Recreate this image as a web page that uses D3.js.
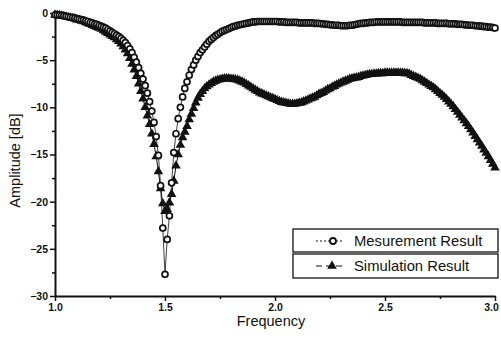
<!DOCTYPE html>
<html>
<head>
<meta charset="utf-8">
<script src="https://cdn.jsdelivr.net/npm/d3@7"></script>
<style>
  body { margin: 0; background: #fff; }
  text { font-family: "Liberation Sans", Arial, sans-serif; fill: #111; }
</style>
</head>
<body>
<div id="chart"></div>
<script>
const margin = {'top':13,'right':6,'bottom':47,'left':55};
const width = 501 - margin.left - margin.right;
const height = 343 - margin.top - margin.bottom;

// frequency grid, 1.00 .. 3.00 GHz in 0.01 steps
const freqStart = 1.0;
const freqStep = 0.01;
const xTicks = [1.0, 1.5, 2.0, 2.5, 3.0];
const yTicks = [0, -5, -10, -15, -20, -25, -30];
const seriesNames = ['Mesurement Result', 'Simulation Result'];

// measured S21 [dB], one row per 0.1 GHz
const measured = [
  -0.2, -0.2, -0.22, -0.25, -0.3, -0.35, -0.4, -0.45, -0.5, -0.55,
  -0.6, -0.65, -0.7, -0.75, -0.85, -0.9, -1.0, -1.05, -1.15, -1.2,
  -1.3, -1.4, -1.5, -1.6, -1.75, -1.9, -2.05, -2.2, -2.35, -2.5,
  -2.7, -2.9, -3.15, -3.45, -3.8, -4.2, -4.7, -5.2, -5.8, -6.4,
  -7.0, -7.7, -8.5, -9.4, -10.4, -11.6, -13.1, -15.1, -18.3, -22.8,
  -27.7, -24.0, -21.5, -18.0, -14.8, -12.8, -11.2, -10.0, -8.9, -8.0,
  -7.3, -6.6, -6.0, -5.5, -5.0, -4.6, -4.2, -3.9, -3.6, -3.3,
  -3.0, -2.8, -2.6, -2.4, -2.25, -2.1, -1.95, -1.85, -1.75, -1.65,
  -1.55, -1.45, -1.4, -1.3, -1.25, -1.2, -1.15, -1.1, -1.05, -1.0,
  -0.95, -0.95, -0.9, -0.9, -0.9, -0.9, -0.9, -0.9, -0.9, -0.9,
  -0.9, -0.9, -0.95, -0.95, -0.95, -1.0, -1.0, -1.0, -1.0, -1.0,
  -1.0, -1.05, -1.05, -1.05, -1.05, -1.05, -1.05, -1.05, -1.1, -1.1,
  -1.1, -1.15, -1.15, -1.2, -1.2, -1.25, -1.25, -1.3, -1.3, -1.3,
  -1.35, -1.35, -1.35, -1.35, -1.3, -1.3, -1.25, -1.2, -1.15, -1.1,
  -1.1, -1.05, -1.05, -1.0, -1.0, -1.0, -0.95, -0.95, -0.95, -0.95,
  -0.95, -0.95, -0.95, -0.95, -0.95, -0.95, -0.95, -0.95, -1.0, -1.0,
  -1.0, -1.0, -1.0, -1.0, -1.0, -1.0, -1.0, -1.0, -1.05, -1.05,
  -1.05, -1.05, -1.05, -1.05, -1.1, -1.1, -1.1, -1.1, -1.1, -1.15,
  -1.15, -1.15, -1.15, -1.2, -1.2, -1.2, -1.25, -1.25, -1.3, -1.3,
  -1.3, -1.35, -1.35, -1.4, -1.4, -1.45, -1.45, -1.5, -1.5, -1.55,
  -1.6
];

// simulated S21 [dB]
const simulated = [
  -0.2, -0.22, -0.25, -0.3, -0.35, -0.4, -0.45, -0.5, -0.55, -0.6,
  -0.7, -0.75, -0.85, -0.9, -1.0, -1.1, -1.2, -1.3, -1.4, -1.5,
  -1.6, -1.7, -1.85, -2.0, -2.15, -2.3, -2.45, -2.6, -2.8, -3.0,
  -3.25, -3.55, -3.9, -4.3, -4.8, -5.4, -6.0, -6.7, -7.5, -8.3,
  -9.1, -10.0, -10.9, -11.8, -12.8, -13.9, -15.2, -16.8, -18.6, -20.2,
  -21.0, -20.8, -20.1, -19.2, -17.8, -16.2, -15.0, -14.0, -13.2, -12.6,
  -12.0, -11.3, -10.7, -10.1, -9.5, -9.0, -8.6, -8.3, -8.0, -7.8,
  -7.6, -7.45, -7.3, -7.2, -7.1, -7.05, -7.0, -6.95, -6.95, -6.95,
  -7.0, -7.0, -7.05, -7.1, -7.2, -7.3, -7.4, -7.55, -7.7, -7.85,
  -8.0, -8.15, -8.3, -8.45, -8.55, -8.65, -8.75, -8.85, -8.95, -9.05,
  -9.15, -9.25, -9.35, -9.45, -9.5, -9.55, -9.6, -9.65, -9.65, -9.65,
  -9.6, -9.55, -9.5, -9.4, -9.3, -9.2, -9.1, -9.0, -8.9, -8.75,
  -8.6, -8.5, -8.4, -8.25, -8.1, -8.0, -7.85, -7.75, -7.6, -7.5,
  -7.4, -7.3, -7.2, -7.1, -7.0, -6.95, -6.9, -6.85, -6.8, -6.7,
  -6.65, -6.6, -6.55, -6.5, -6.5, -6.45, -6.45, -6.4, -6.4, -6.4,
  -6.35, -6.35, -6.35, -6.35, -6.35, -6.35, -6.35, -6.35, -6.35, -6.4,
  -6.4, -6.45, -6.6, -6.7, -6.8, -6.9, -7.0, -7.15, -7.3, -7.45,
  -7.6, -7.75, -7.9, -8.1, -8.3, -8.5, -8.7, -8.9, -9.15, -9.4,
  -9.65, -9.9, -10.2, -10.5, -10.8, -11.1, -11.4, -11.7, -12.0, -12.35,
  -12.7, -13.05, -13.4, -13.75, -14.1, -14.5, -14.85, -15.2, -15.6, -16.0,
  -16.4
];

var svg, x, y;

function setup(){
  svg = d3.select('#chart')
          .append('svg')
          .attr('width', width + margin.left + margin.right)
          .attr('height', height + margin.top + margin.bottom)
          .append('g')
          .attr('transform', `translate(${margin.left},${margin.top})`);
}

function setScales(){
  x = d3.scaleLinear().domain([1, 3]).range([0, width]);
  y = d3.scaleLinear().domain([-30, 0]).range([height, 0]);

  // minor ticks first, then major axes on top
  svg.append('g')
     .attr('transform', `translate(0,${height})`)
     .call(d3.axisBottom(x).tickValues([1.25, 1.75, 2.25, 2.75]).tickSize(3).tickFormat(''))
     .call(g => g.select('.domain').remove());
  svg.append('g')
     .call(d3.axisLeft(y).tickValues(d3.range(-27.5, 0, 5)).tickSize(3).tickFormat(''))
     .call(g => g.select('.domain').remove());

  svg.append('g')
     .attr('class', 'axis')
     .attr('transform', `translate(0,${height})`)
     .call(d3.axisBottom(x).tickValues(xTicks).tickSize(5).tickSizeOuter(0).tickPadding(3)
             .tickFormat(d3.format('.1f')))
     .selectAll('.tick text')
     .attr('dx', d => d === 3 ? -4 : 0);
  svg.append('g')
     .attr('class', 'axis')
     .call(d3.axisLeft(y).tickValues(yTicks).tickSize(5).tickSizeOuter(0).tickPadding(2));

  svg.selectAll('.tick line').attr('stroke', '#111').attr('stroke-width', 1.5);
  svg.selectAll('.domain').attr('stroke', '#111').attr('stroke-width', 2);
  svg.selectAll('.axis text')
     .attr('font-size', 10.5)
     .attr('font-weight', 'bold')
     .style('font-family', '"Liberation Sans", Arial, sans-serif')
     .attr('fill', '#111');

  svg.append('text')
     .attr('x', x(2) - 4)
     .attr('y', height + 30)
     .attr('text-anchor', 'middle')
     .attr('font-size', 14.5)
     .text('Frequency');
  svg.append('text')
     .attr('transform', `translate(${-35},${y(-15) + 6}) rotate(-90)`)
     .attr('text-anchor', 'middle')
     .attr('font-size', 14.5)
     .text('Amplitude [dB]');
}

function drawSeries(){
  const freqOf = i => freqStart + i * freqStep;
  const line = d3.line().x((d, i) => x(freqOf(i))).y(d => y(d));
  const tri = d3.symbol().type(d3.symbolTriangle).size(40);

  svg.append('path')
     .datum(simulated)
     .attr('fill', 'none')
     .attr('stroke', '#111')
     .attr('stroke-width', 1)
     .attr('d', line);
  svg.append('g').selectAll('path')
     .data(simulated)
     .join('path')
     .attr('transform', (d, i) => `translate(${x(freqOf(i))},${y(d)})`)
     .attr('d', tri)
     .attr('fill', '#111');

  svg.append('path')
     .datum(measured)
     .attr('fill', 'none')
     .attr('stroke', '#111')
     .attr('stroke-width', 0.8)
     .attr('d', line);
  svg.append('g').selectAll('circle')
     .data(measured)
     .join('circle')
     .attr('cx', (d, i) => x(freqOf(i)))
     .attr('cy', d => y(d))
     .attr('r', 3)
     .attr('fill', '#fff')
     .attr('stroke', '#111')
     .attr('stroke-width', 1.7);
}

function drawLegend(){
  const lx = 238, lw = 205;
  const rows = svg.append('g').selectAll('g')
     .data(seriesNames)
     .join('g')
     .attr('transform', (d, i) => `translate(${lx},${216 + i * 25})`);

  rows.append('rect')
      .attr('width', lw)
      .attr('height', (d, i) => i ? 24 : 23)
      .attr('fill', '#fff')
      .attr('stroke', '#111')
      .attr('stroke-width', 1.3);
  rows.append('line')
      .attr('x1', 23).attr('x2', 49)
      .attr('y1', 12).attr('y2', 12)
      .attr('stroke', '#111')
      .attr('stroke-width', 1)
      .attr('stroke-dasharray', (d, i) => i ? '6,4' : '2,2');
  rows.filter((d, i) => i === 0).append('circle')
      .attr('cx', 40).attr('cy', 12).attr('r', 3)
      .attr('fill', '#fff').attr('stroke', '#111').attr('stroke-width', 1.8);
  rows.filter((d, i) => i === 1).append('path')
      .attr('transform', 'translate(39,12)')
      .attr('d', d3.symbol().type(d3.symbolTriangle).size(40))
      .attr('fill', '#111');
  rows.append('text')
      .attr('x', 61)
      .attr('y', 17)
      .attr('font-size', 14.8)
      .text(d => d);
}

setup()
setScales()
drawSeries()
drawLegend()
</script>
</body>
</html>
